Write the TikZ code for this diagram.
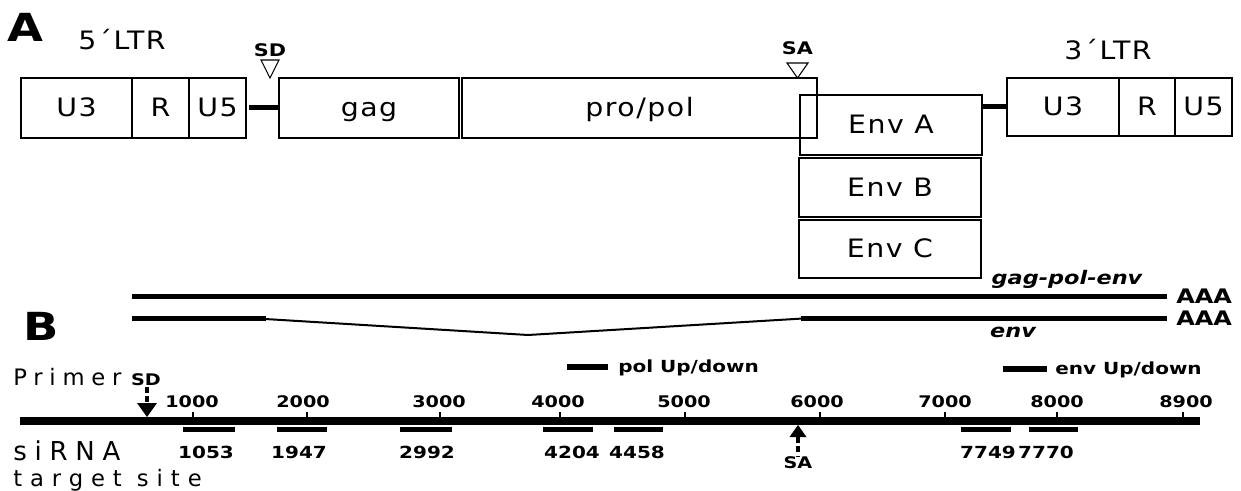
\documentclass[tikz,border=0pt]{standalone}
\usepackage{fontspec}
\newfontfamily\rgf{DejaVu Sans}[FakeStretch=1.12,LetterSpace=6]
\newfontfamily\spf{DejaVu Sans}[LetterSpace=30]
\newfontfamily\spg{DejaVu Sans}[LetterSpace=35]
\newfontfamily\bwf{DejaVu Sans}[FakeStretch=1.2]
\newcommand\fsz[1]{\fontsize{#1}{#1}\selectfont}
\tikzset{
  box/.style 2 args={draw, line width=0.8pt, minimum width=#1*0.75pt, minimum height=#2*0.75pt,
    inner sep=0pt, outer sep=0pt, text height=13.5pt, text depth=0pt, font=\rgf\fsz{19}},
  lbl/.style={inner sep=0pt, font=\rgf\fsz{19}},
  bl/.style={inner sep=0pt, font=\bwf\bfseries\fsz{#1}},
  thickline/.style={line width=3.75pt},
  thinline/.style={line width=1.5pt},
  barline/.style={line width=4pt},
  stem/.style={line width=3.6pt, dash pattern=on 4.5pt off 2.5pt},
}
\begin{document}
\begin{tikzpicture}[x=0.75pt,y=-0.75pt]
\useasboundingbox (0,0) rectangle (1241,491);
% ---------- Part A ----------
\node[bl=29, anchor=base west] (lA) at (7,42) {A};
\node[lbl, anchor=base] (ltr5) at (122,50) {5´LTR};
\node[lbl, anchor=base] (ltr3) at (1108,60) {3´LTR};
\node[box={111}{60}] (u3a) at (76.5,108) {U3};
\node[box={57}{60}] (ra) at (160.5,108) {R};
\node[box={57}{60}] (u5a) at (217.5,108) {U5};
\node[box={180}{60}] (gag) at (369,108) {gag};
\node[box={355}{60}] (pol) at (639.5,108) {pro/pol};
\node[box={182}{60}] (envA) at (891,125) {Env A};
\node[box={182}{59}] (envB) at (890,187.5) {Env B};
\node[box={182}{58}] (envC) at (890,249) {Env C};
\node[box={112}{58}] (u3b) at (1063,107) {U3};
\node[box={56}{58}] (rb) at (1147,107) {R};
\node[box={57}{58}] (u5b) at (1203.5,107) {U5};
\draw[thickline, shorten <=2.5pt, shorten >=1pt] (u5a.east) -- (gag.west);
\draw[thickline] (envA.east |- u3b.west) -- (u3b.west);
\node[bl=13, anchor=base] (sdA) at (270,57) {SD};
\node[bl=13, anchor=base] (saA) at (797.5,55) {SA};
\draw[line width=0.8pt] (261,60) -- (279,60) -- (270,78) -- cycle;
\draw[line width=0.8pt] (787,63) -- (808,63) -- (797.5,78) -- cycle;
% ---------- transcripts ----------
\draw[thickline] (132,297) -- (1167,297);
\draw[thickline] (132,319) -- (266,319);
\draw[thinline] (265,319) -- (528,335) -- (803,318.5);
\draw[thickline] (801,319) -- (1167,319);
\node[bl=15, anchor=west] (aaa1) at (1176,296) {AAA};
\node[bl=15, anchor=west] (aaa2) at (1176,318) {AAA};
\node[inner sep=0pt, font=\bwf\bfseries\itshape\fsz{14}, anchor=base] (gpe) at (1067,285) {gag-pol-env};
\node[inner sep=0pt, font=\bwf\bfseries\itshape\fsz{14}, anchor=base] (envl) at (1013,338) {env};
% ---------- Part B ----------
\node[bl=29, anchor=base west] (lB) at (23,340) {B};
\node[inner sep=0pt, font=\spf\fsz{17}, anchor=base west] (primer) at (13,385) {Primer};
\node[inner sep=0pt, font=\spf\fsz{19.5}, anchor=base west] (sirna) at (13,460) {siRNA};
\node[inner sep=0pt, font=\spg\fsz{17}, anchor=base west] (target) at (13,486) {target site};
\draw[barline] (567,367) -- (608,367);
\node[bl=12.5, anchor=base west] (polud) at (618,372) {pol Up/down};
\draw[barline] (1003,369) -- (1047,369);
\node[bl=12.5, anchor=base west] (envud) at (1055,374) {env Up/down};
% axis
\draw[line width=6pt] (20,421) -- (1200,421);
\foreach \x in {193,307,440,560,685,820,945,1057,1183}
  \draw[line width=1pt] (\x,412) -- (\x,418);
\foreach \x/\t in {192/1000,303/2000,439/3000,558/4000,684/5000,817/6000,945/7000,1057/8000,1186/8900}
  \node[bl=12, anchor=base] (tick\t) at (\x,407) {\t};
% siRNA target sites
\foreach \a/\b in {183/235,277/327,400/452,543/593,614/663,961/1011,1029/1078}
  \draw[thickline] (\a,429) -- (\b,429);
\foreach \x/\t in {206/1053,299/1947,427/2992,572/4204,637/4458,988/7749,1046/7770}
  \node[bl=12.5, anchor=base] (si\t) at (\x,458) {\t};
% SD / SA markers
\node[bl=12, anchor=base] (sdB) at (146,385) {SD};
\coordinate (sdtri) at (147,403);
\fill (137,403) -- (157,403) -- (147,417) -- cycle;
\coordinate (sdst) at (147,387);
\draw[stem] (sdst) -- (sdtri);
\node[bl=12, anchor=base] (saB) at (798,468) {SA};
\coordinate (satri) at (798,437);
\fill (789.5,437) -- (806.5,437) -- (798,425) -- cycle;
\draw[stem] (satri) -- (saB.north);
\end{tikzpicture}
\end{document}
